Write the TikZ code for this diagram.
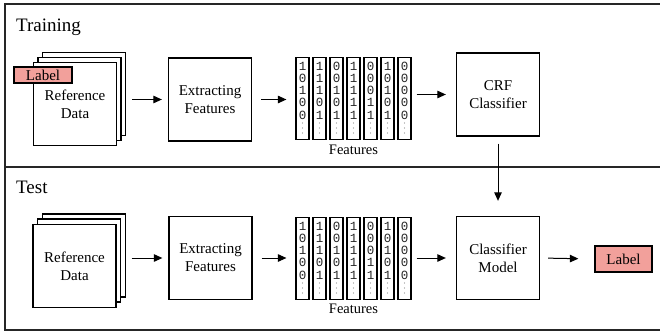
\documentclass[tikz,border=0pt]{standalone}
\usepackage{fontspec}
\setmainfont{Liberation Serif}
\newfontfamily\digitfont{Liberation Mono}
\usetikzlibrary{arrows.meta}
\definecolor{labelpink}{RGB}{242,160,155}

% one feature vector: name, centre x, top y, comma list of bits
\newcommand\featcol[4]{%
  \node[fcol, anchor=north] (#1) at (#2,#3) {};
  \foreach \d [count=\k, evaluate=\k as \dy using 9.5+(\k-1)*12.1] in {#4}
    \node[bit] at (#2,{#3+\dy}) {\d};
  \foreach \k in {66,71,76}
    \fill[black!45] (#2,{#3+\k}) circle (0.6pt);
}

\begin{document}
\begin{tikzpicture}[x=1pt,y=-1pt,
  box/.style={draw=black, line width=1.3pt, fill=white, align=center,
    font=\fontsize{15}{18}\selectfont, inner sep=0pt,
    minimum width=83pt, minimum height=83pt},
  lbl/.style={draw=black, line width=1.3pt, fill=labelpink, inner sep=0pt,
    font=\fontsize{15}{18}\selectfont, minimum height=16pt},
  fcol/.style={draw=black, line width=1.2pt, fill=white, minimum width=13pt,
    minimum height=82pt, inner sep=0pt},
  bit/.style={inner sep=0pt, font=\digitfont\fontsize{12.5}{13}\selectfont,
    text=black!85},
  caption/.style={inner sep=0pt, font=\fontsize{14.5}{16}\selectfont},
  title/.style={inner sep=0pt, anchor=base west, font=\fontsize{19}{22}\selectfont},
  arr/.style={line width=1pt, -{Triangle[length=8.5pt,width=7.5pt]}},
  frame/.style={line width=1.5pt, draw=black!85}
]
\useasboundingbox (0,0) rectangle (660,332);

% panels
\draw[frame] (661,4) -- (5,4) -- (5,330) -- (661,330);
\draw[frame] (5,167) -- (661,167);
\node[title] (trtitle) at (16,31) {Training};
\node[title] (tetitle) at (16,193) {Test};

% ---------------- training row ----------------
\node[box] (trback) at (84,94) {};
\node[box] (trmid) at (79.5,99) {};
\node[box] (trfront) at (75,104) {Reference\\Data};
\node[lbl, minimum width=58pt] (trlbl) at (43,75) {Label};

\node[box] (trext) at (210,99.5) {Extracting\\Features};

\featcol{trc1}{302.5}{57}{1,0,1,0,0}
\featcol{trc2}{319.5}{57}{1,1,1,0,1}
\featcol{trc3}{336.5}{57}{0,0,1,0,1}
\featcol{trc4}{353.5}{57}{1,1,1,1,1}
\featcol{trc5}{370.5}{57}{0,0,0,1,1}
\featcol{trc6}{387.5}{57}{1,0,1,0,1}
\featcol{trc7}{404.5}{57}{0,0,0,0,0}
\node[caption, anchor=north] (trfeat) at (353.5,145) {Features};

\node[box] (crf) at (498,94.5) {CRF\\Classifier};

\draw[arr, shorten <=15pt, shorten >=6pt] (trfront.east |- trext.west) -- (trext.west);
\draw[arr, shorten <=9pt, shorten >=9pt] (trext.east) -- (trc1.west |- trext.east);
\draw[arr, shorten <=5pt, shorten >=10pt] (trc7.east |- crf.west) -- (crf.west);

% ---------------- test row ----------------
\node[box] (teback) at (84,255.5) {};
\node[box] (temid) at (79,260.5) {};
\node[box] (tefront) at (74.5,266) {Reference\\Data};

\node[box] (teext) at (210.5,258) {Extracting\\Features};

\featcol{tec1}{302.5}{217}{1,0,1,0,0}
\featcol{tec2}{319.5}{217}{1,1,1,0,1}
\featcol{tec3}{336.5}{217}{0,0,1,0,1}
\featcol{tec4}{353.5}{217}{1,1,1,1,1}
\featcol{tec5}{370.5}{217}{0,0,0,1,1}
\featcol{tec6}{387.5}{217}{1,0,1,0,1}
\featcol{tec7}{404.5}{217}{0,0,0,0,0}
\node[caption, anchor=north] (tefeat) at (353.5,304) {Features};

\node[box] (clf) at (498,258) {Classifier\\Model};
\node[lbl, minimum width=57pt, minimum height=26pt] (telbl) at (623.5,259) {Label};

\draw[arr, shorten <=15pt, shorten >=6pt] (tefront.east |- teext.west) -- (teext.west);
\draw[arr, shorten <=9pt, shorten >=9pt] (teext.east) -- (tec1.west |- teext.east);
\draw[arr, shorten <=5pt, shorten >=10pt] (tec7.east |- clf.west) -- (clf.west);
\draw[arr, shorten <=8pt, shorten >=16pt] (clf.east) -- (telbl.west);

% trained model feeds the test classifier
\draw[arr, shorten <=7pt, shorten >=15pt] (crf.south) -- (clf.north);
\end{tikzpicture}
\end{document}
